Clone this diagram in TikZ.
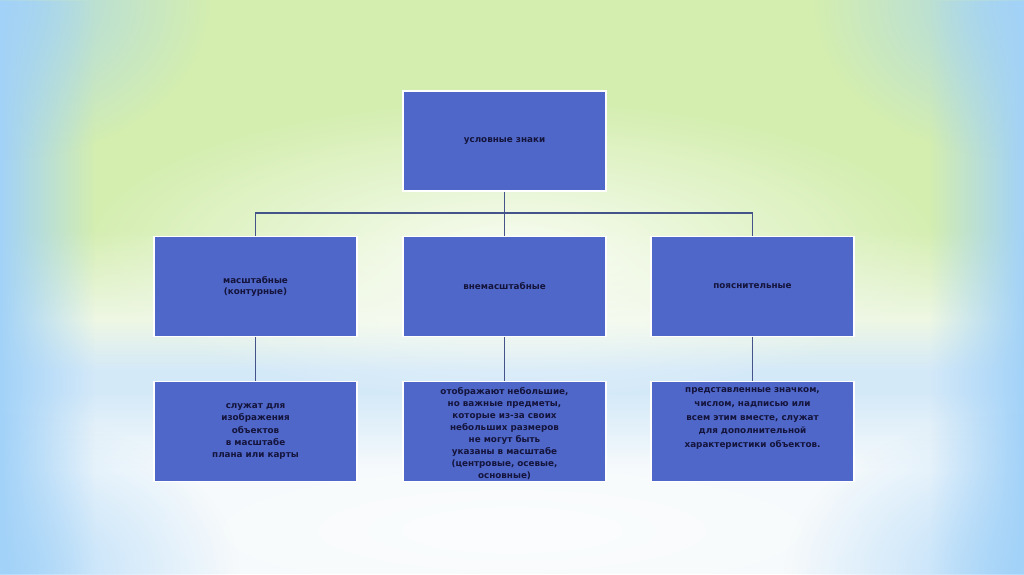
\documentclass[tikz,border=0pt]{standalone}
\usepackage{fontspec}
\setmainfont{DejaVu Sans}
\usetikzlibrary{fadings}
\definecolor{boxfill}{HTML}{4F67C8}
\definecolor{boxtext}{HTML}{14143C}
\definecolor{linecol}{HTML}{44548A}
\definecolor{edgeblue}{HTML}{A2D2F8}
\definecolor{glowgreen}{HTML}{D4EEB0}
\definecolor{palegreen}{HTML}{EEF7E4}
\definecolor{bandblue}{HTML}{D4E9F8}
\definecolor{lowwhite}{HTML}{F6FAFC}
\tikzfading[name=soft, inner color=transparent!0, outer color=transparent!100]
\tikzfading[name=fadeR, left color=transparent!0, right color=transparent!100]
\tikzfading[name=fadeL, left color=transparent!100, right color=transparent!0]
\tikzset{
  box/.style={draw=white, line width=1.2pt, fill=boxfill, minimum width=203pt, minimum height=100pt,
    inner sep=0pt, align=center, text=boxtext, font=\fontsize{8.8}{11.9}\selectfont\bfseries},
  boxtxt/.style={inner sep=0pt, align=center, text=boxtext, font=\fontsize{8.8}{13.8}\selectfont\bfseries},
  conn/.style={draw=linecol, line width=1.3pt}
}
\begin{document}
\begin{tikzpicture}[x=1pt,y=-1pt]
\useasboundingbox (0,0) rectangle (1024,574);
% background: vertical bands
\fill[glowgreen] (0,0) rectangle (1024,230);
\shade[top color=glowgreen, bottom color=palegreen] (0,230) rectangle (1024,320);
\shade[top color=palegreen, bottom color=bandblue] (0,320) rectangle (1024,370);
\fill[bandblue] (0,370) rectangle (1024,392);
\shade[top color=bandblue, bottom color=lowwhite] (0,392) rectangle (1024,470);
\fill[lowwhite] (0,470) rectangle (1024,574);
% pale glow in the middle
\fill[white, path fading=soft, opacity=0.85] (512,250) ellipse (430 and 150);
\fill[white, path fading=soft, opacity=0.6] (512,530) ellipse (430 and 90);
% blue edges and corners
\fill[edgeblue, path fading=fadeR] (0,0) rectangle (95,574);
\fill[edgeblue, path fading=fadeL] (929,0) rectangle (1024,574);
\fill[edgeblue, path fading=soft, opacity=0.85] (0,0) ellipse (210 and 160);
\fill[edgeblue, path fading=soft, opacity=0.85] (1024,0) ellipse (210 and 160);
\fill[edgeblue, path fading=soft, opacity=0.8] (0,574) ellipse (240 and 160);
\fill[edgeblue, path fading=soft, opacity=0.8] (1024,574) ellipse (240 and 160);
% nodes
\node[box] (top) at (504.5,141) {условные знаки};
\node[box] (m1) at (255.5,286.5) {масштабные\\(контурные)};
\node[box] (m2) at (504.5,286.5) {внемасштабные};
\node[box] (m3) at (752.5,286.5) {пояснительные};
\node[box, font=\fontsize{8.8}{12.2}\selectfont\bfseries] (b1) at (255.5,431.5) {служат для\\изображения\\объектов\\в масштабе\\плана или карты};
\node[box] (b2) at (504.5,431.5) {};
\node[boxtxt, font=\fontsize{8.8}{11.9}\selectfont\bfseries] (b2t) at (504.5,433.5) {отображают небольшие,\\но важные предметы,\\которые из-за своих\\небольших размеров\\не могут быть\\указаны в масштабе\\(центровые, осевые,\\основные)};
\node[box] (b3) at (752.5,431.5) {};
\node[boxtxt] (b3t) at (752.5,418.5) {представленные значком,\\числом, надписью или\\всем этим вместе, служат\\для дополнительной\\характеристики объектов.};
% connectors
\coordinate (j) at (504.5,213);
\draw[conn] (top.south) -- (j);
\draw[conn] (j) -| (m1.north);
\draw[conn] (j) -- (m2.north);
\draw[conn] (j) -| (m3.north);
\draw[conn] (m1.south) -- (b1.north);
\draw[conn] (m2.south) -- (b2.north);
\draw[conn] (m3.south) -- (b3.north);
\end{tikzpicture}
\end{document}
